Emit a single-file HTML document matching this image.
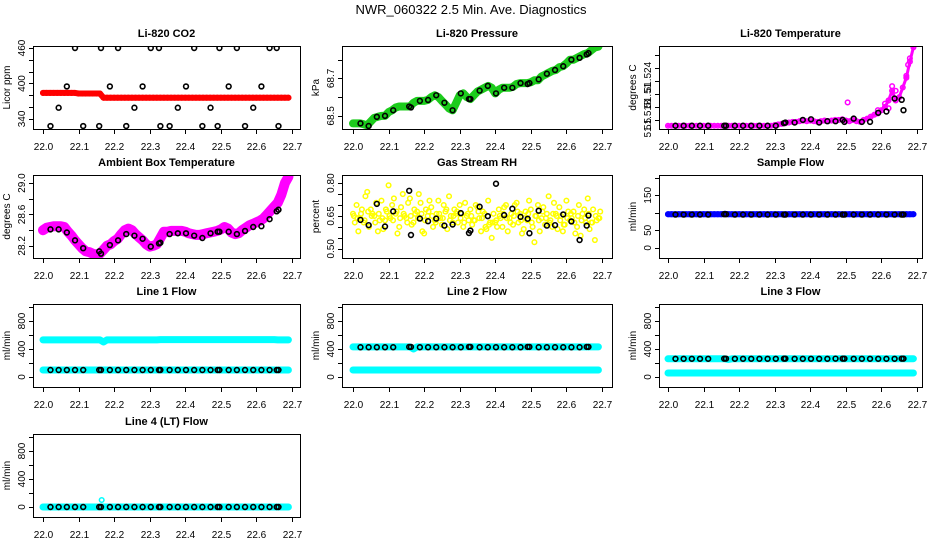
<!DOCTYPE html>
<html><head><meta charset="utf-8">
<style>
html,body{margin:0;padding:0;background:#fff;}
svg{display:block;font-family:"Liberation Sans",Arial,sans-serif;}
</style></head>
<body>
<svg id="chart" width="936" height="540" viewBox="0 0 936 540" xmlns="http://www.w3.org/2000/svg">
<text x="471" y="14" font-size="13" text-anchor="middle">NWR_060322  2.5 Min. Ave. Diagnostics</text>
</svg>
<script>
// ---------- data ----------
const xTicks = [22.0,22.1,22.2,22.3,22.4,22.5,22.6,22.7];
const xTickLabels = ["22.0","22.1","22.2","22.3","22.4","22.5","22.6","22.7"];
const blackX = [22.021,22.044,22.067,22.090,22.113,22.158,22.163,22.188,22.211,22.234,22.257,22.280,22.303,22.326,22.330,22.356,22.379,22.402,22.425,22.448,22.471,22.491,22.496,22.522,22.545,22.568,22.591,22.614,22.637,22.657,22.662];
const gridX = [22.00,22.01,22.02,22.03,22.04,22.05,22.06,22.07,22.08,22.09,22.10,22.11,22.12,22.13,22.14,22.15,22.16,22.17,22.18,22.19,22.20,22.21,22.22,22.23,22.24,22.25,22.26,22.27,22.28,22.29,22.30,22.31,22.32,22.33,22.34,22.35,22.36,22.37,22.38,22.39,22.40,22.41,22.42,22.43,22.44,22.45,22.46,22.47,22.48,22.49,22.50,22.51,22.52,22.53,22.54,22.55,22.56,22.57,22.58,22.59,22.60,22.61,22.62,22.63,22.64,22.65,22.66,22.67,22.68,22.69];

const co2Color = [384,384,384,384,384,384,384,384,384,384,383,383,383,383,383,383,383,376,376,376,376,376,376,376,376,376,376,376,376,376,376,376,376,376,376,376,376,376,376,376,376,376,376,376,376,376,376,376,376,376,376,376,376,376,376,376,376,376,376,376,376,376,376,376,376,376,376,376,376,376];
const co2Black = [328,359,395,460,328,328,460,395,460,328,359,395,460,460,328,328,359,395,460,328,359,328,460,395,460,328,359,395,460,460,328];

const presColor = [68.46,68.46,68.46,68.455,68.45,68.47,68.49,68.495,68.5,68.5,68.52,68.53,68.545,68.55,68.55,68.55,68.55,68.57,68.58,68.58,68.58,68.585,68.6,68.61,68.6,68.58,68.56,68.54,68.53,68.57,68.61,68.62,68.6,68.59,68.61,68.63,68.64,68.65,68.66,68.65,68.62,68.64,68.65,68.65,68.65,68.655,68.67,68.675,68.675,68.675,68.68,68.69,68.69,68.71,68.72,68.73,68.74,68.745,68.76,68.765,68.78,68.8,68.8,68.81,68.82,68.83,68.835,68.85,68.865,68.87];
const presBlack = [68.46,68.446,68.495,68.5,68.53,68.55,68.545,68.58,68.585,68.61,68.57,68.53,68.62,68.59,68.59,68.635,68.66,68.62,68.65,68.65,68.675,68.67,68.675,68.695,68.725,68.745,68.765,68.8,68.81,68.828,68.835];

const ltColor = [51.5151,51.5151,51.5151,51.5151,51.5151,51.5151,51.5151,51.5151,51.5151,51.5151,51.5151,51.5151,51.5151,51.5151,51.5151,51.5151,51.5151,51.5151,51.5151,51.5151,51.5151,51.5151,51.5151,51.5151,51.5151,51.5151,51.5151,51.5151,51.5151,51.5151,51.5152,51.5153,51.5154,51.5155,51.5156,51.5157,51.5157,51.5158,51.5159,51.5158,51.5159,51.5158,51.5157,51.5158,51.5159,51.5158,51.5159,51.516,51.516,51.5161,51.5159,51.5158,51.516,51.5158,51.5157,51.516,51.5162,51.5165,51.5168,51.517,51.5175,51.518,51.519,51.5205,51.519,51.5195,51.521,51.5225,51.525,51.5272];
const ltBlack = [51.5151,51.5151,51.5151,51.5151,51.5151,51.5151,51.5151,51.5151,51.5151,51.5151,51.5151,51.5151,51.5151,51.5155,51.5156,51.5156,51.516,51.5161,51.5156,51.5158,51.5158,51.516,51.5157,51.5162,51.5157,51.5157,51.5171,51.5173,51.5193,51.5191,51.5175];

const ambColor = [28.4,28.43,28.44,28.45,28.45,28.45,28.44,28.38,28.33,28.27,28.22,28.17,28.13,28.12,28.1,28.09,28.1,28.15,28.2,28.22,28.26,28.29,28.35,28.4,28.42,28.4,28.35,28.31,28.27,28.22,28.19,28.2,28.22,28.3,28.38,28.38,28.39,28.39,28.39,28.39,28.38,28.36,28.35,28.34,28.34,28.35,28.36,28.37,28.38,28.39,28.41,28.44,28.42,28.37,28.35,28.36,28.4,28.43,28.46,28.48,28.5,28.52,28.55,28.6,28.65,28.7,28.75,28.85,29.0,29.08];
const ambBlack = [28.41,28.41,28.37,28.27,28.17,28.13,28.1,28.21,28.27,28.35,28.33,28.29,28.19,28.23,28.24,28.35,28.36,28.36,28.33,28.3,28.36,28.38,28.38,28.38,28.35,28.39,28.44,28.45,28.54,28.64,28.66];

const rhA = [0.66,0.70,0.64,0.62,0.76,0.68,0.65,0.58,0.72,0.63,0.79,0.70,0.66,0.60,0.75,0.64,0.73,0.62,0.67,0.71,0.57,0.65,0.69,0.63,0.72,0.61,0.67,0.74,0.62,0.66,0.70,0.60,0.65,0.68,0.63,0.69,0.58,0.66,0.72,0.55,0.62,0.68,0.60,0.70,0.64,0.61,0.71,0.66,0.59,0.63,0.68,0.53,0.70,0.64,0.61,0.74,0.60,0.66,0.69,0.58,0.72,0.63,0.67,0.60,0.56,0.68,0.73,0.62,0.54,0.64];
const rhB = [0.62,0.58,0.68,0.74,0.60,0.66,0.71,0.63,0.59,0.67,0.64,0.73,0.57,0.69,0.65,0.71,0.61,0.66,0.75,0.58,0.68,0.72,0.60,0.66,0.64,0.70,0.59,0.65,0.68,0.62,0.66,0.71,0.63,0.61,0.70,0.64,0.67,0.59,0.62,0.66,0.60,0.64,0.69,0.58,0.66,0.70,0.62,0.57,0.67,0.72,0.60,0.65,0.58,0.69,0.66,0.63,0.71,0.59,0.65,0.61,0.67,0.64,0.57,0.70,0.66,0.62,0.59,0.68,0.63,0.67];
const rhC = [0.65,0.64,0.66,0.63,0.67,0.65,0.62,0.66,0.64,0.68,0.65,0.63,0.67,0.64,0.66,0.62,0.65,0.68,0.64,0.66,0.63,0.67,0.65,0.62,0.66,0.64,0.68,0.63,0.65,0.67,0.64,0.62,0.66,0.65,0.63,0.67,0.64,0.60,0.61,0.62,0.63,0.65,0.66,0.64,0.62,0.65,0.67,0.63,0.64,0.66,0.62,0.65,0.63,0.67,0.64,0.62,0.66,0.65,0.63,0.61,0.64,0.66,0.62,0.65,0.63,0.64,0.66,0.62,0.65,0.64];
const rhBlack = [0.632,0.608,0.705,0.602,0.671,0.765,0.563,0.638,0.626,0.638,0.606,0.611,0.663,0.572,0.583,0.692,0.649,0.797,0.654,0.683,0.646,0.637,0.571,0.674,0.606,0.608,0.657,0.625,0.54,0.606,0.652];

const sfColor = [96,96,96,96,96,96,96,96,96,96,96,96,96,96,96,96,97,96,96,96,96,96,96,96,96,96,96,96,96,96,96,96,96,96,96,96,96,96,96,96,96,96,96,96,96,96,96,96,96,96,96,96,96,96,96,96,96,96,96,96,96,96,96,96,96,96,96,96,96,96];
const sfBlack = [95,95,95,95,95,96,96,95,95,95,95,95,95,95,95,95,95,95,95,95,95,95,95,95,95,95,95,95,95,95,95];

const l1Up = [530,530,530,530,530,530,530,530,530,530,530,530,530,530,530,530,530,500,530,530,530,530,530,530,530,530,530,530,530,530,530,530,530,535,535,535,535,535,535,535,535,535,535,535,535,535,535,535,535,535,535,535,535,535,535,535,535,535,535,535,535,535,535,535,535,535,530,530,530,530];
const l1Low = [100,100,100,100,100,100,100,100,100,100,100,100,100,100,100,100,100,100,100,100,100,100,100,100,100,100,100,100,100,100,100,100,100,100,100,100,100,100,100,100,100,100,100,100,100,100,100,100,100,100,100,100,100,100,100,100,100,100,100,100,100,100,100,100,100,100,100,100,100,100];
const l1Black = [100,100,100,100,100,100,100,100,100,100,100,100,100,100,100,100,100,100,100,100,100,100,100,100,100,100,100,100,100,100,100];
const l2Up = [430,430,430,430,430,430,430,430,430,430,430,430,430,430,430,430,430,400,430,430,430,430,430,430,430,430,430,430,430,430,430,430,430,430,430,430,430,430,430,430,430,430,430,430,430,430,430,430,430,430,430,430,430,430,430,430,430,430,430,430,430,430,430,430,430,430,430,430,430,430];
const l2Low = [100,100,100,100,100,100,100,100,100,100,100,100,100,100,100,100,100,100,100,100,100,100,100,100,100,100,100,100,100,100,100,100,100,100,100,100,100,100,100,100,100,100,100,100,100,100,100,100,100,100,100,100,100,100,100,100,100,100,100,100,100,100,100,100,100,100,100,100,100,100];
const l2Black = [425,425,425,425,425,430,430,425,425,425,425,425,425,430,430,425,425,425,425,425,425,430,430,425,425,425,425,425,425,430,430];
const l3Up = [260,260,260,260,260,260,260,260,260,260,260,260,260,260,260,260,260,250,260,260,260,260,260,260,260,260,260,260,260,260,260,260,260,262,262,262,262,262,262,262,262,262,262,262,262,262,262,262,262,262,262,262,262,262,262,262,262,262,262,262,262,262,262,262,262,262,262,262,262,262];
const l3Low = [57,57,57,57,57,57,57,57,57,57,57,57,57,57,57,57,57,57,57,57,57,57,57,57,57,57,57,57,57,57,57,57,57,57,57,57,57,57,57,57,57,57,57,57,57,57,57,57,57,57,57,57,57,57,57,57,57,57,57,57,57,57,57,57,57,57,57,57,57,57];
const l3Black = [260,260,260,260,260,262,262,260,260,260,260,260,260,262,262,260,260,260,260,260,262,262,262,260,260,260,260,260,260,262,262];
const l4Color = [0,0,0,0,0,0,0,0,0,0,0,0,0,0,0,0,0,0,0,0,0,0,0,0,0,0,0,0,0,0,0,0,0,0,0,0,0,0,0,0,0,0,0,0,0,0,0,0,0,0,0,0,0,0,0,0,0,0,0,0,0,0,0,0,0,0,0,0,0,0];
const l4OutlierX = [22.165];
const l4OutlierY = [100];
const l4Black = [0,0,0,0,0,0,0,0,0,0,0,0,0,0,0,0,0,0,0,0,0,0,0,0,0,0,0,0,0,0,0];

// ---------- layout ----------
const svg = document.getElementById('chart');
const NS = 'http://www.w3.org/2000/svg';
const colBox = [[33,300,43],[342,612,353],[659,922,668]];
const rowTop = [46,175,304,434];
const boxH = 83;
const xSpan = 249;

function mk(tag, attrs, parent){
  const e = document.createElementNS(NS, tag);
  for (const k in attrs) e.setAttribute(k, attrs[k]);
  (parent||svg).appendChild(e);
  return e;
}

function panel(cfg){
  const [bl, br, x0] = colBox[cfg.col];
  const top = rowTop[cfg.row], bot = top + boxH;
  const g = mk('g', {});
  
  
  const xs = v => x0 + (v - 22.0) / 0.7 * xSpan;
  const ys = v => bot - (v - cfg.dom[0]) / (cfg.dom[1] - cfg.dom[0]) * boxH;
  const t = mk('text', {x:(bl+br)/2, y: top-9, 'font-size':11, 'font-weight':'bold', 'text-anchor':'middle'}, g);
  t.textContent = cfg.title;
  
  
  const b = mk('rect', {x:bl+0.5, y:top+0.5, width:br-bl, height:boxH, fill:'none', stroke:'#000', 'stroke-width':1}, g);
  
  
  const xa = mk('g', {}, g);
  
  
  xTicks.forEach((v,i)=>{
    const x = Math.round(xs(v))+0.5;
    mk('line', {x1:x, x2:x, y1:bot+1, y2:bot+5, stroke:'#000'}, xa);
    const tl = mk('text', {x:x, y:bot+21, 'font-size':10, 'text-anchor':'middle'}, xa);
    tl.textContent = xTickLabels[i];
    
    
  });
  const ya = mk('g', {}, g);
  
  
  cfg.yTicks.forEach(v=>{
    const y = Math.round(ys(v))+0.5;
    mk('line', {x1:bl-4, x2:bl, y1:y, y2:y, stroke:'#000'}, ya);
  });
  cfg.yLabVals.forEach((v,i)=>{
    const y = ys(v);
    const tl = mk('text', {x:0, y:0, 'font-size':10, 'text-anchor':'middle', transform:`translate(${bl-8},${y}) rotate(-90)`}, ya);
    tl.textContent = cfg.yLabs[i];
    
    
  });
  const yt = mk('text', {x:0, y:0, 'font-size':10, 'text-anchor':'middle', transform:`translate(${bl-23},${(top+bot)/2}) rotate(-90)`}, ya);
  yt.textContent = cfg.ylab;
  
  
  const cid = 'c' + cfg.col + cfg.row;
  const cp = mk('clipPath', {id:cid}, g);
  mk('rect', {x:bl+1, y:top+1, width:br-bl-1, height:boxH-1}, cp);
  const dg = mk('g', {'clip-path':`url(#${cid})`}, g);
  cfg.series.forEach(s=>{
    const sg = mk('g', {}, dg);
    
    
    const off = s.off || 0;
    if (s.band){
      const pts = s.vals.map((v,i)=>`${xs(gridX[i]+off).toFixed(1)},${ys(v).toFixed(1)}`).join(' ');
      mk('polyline', {points:pts, fill:'none', stroke:s.color, 'stroke-width':s.band, 'stroke-linejoin':'round', 'stroke-linecap':'round'}, sg);
    }
    s.vals.forEach((v,i)=>{
      const c = mk('circle', {cx:xs(gridX[i]+off), cy:ys(v), r:2.3, fill:'none', stroke:s.color, 'stroke-width':1.5}, sg);
      
      
    });
  });
  (cfg.extra||[]).forEach(s=>{
    s.xv.forEach((xv,i)=>{
      const c = mk('circle', {cx:xs(xv), cy:ys(s.yv[i]), r:2.3, fill:'none', stroke:s.color, 'stroke-width':1.5}, dg);
      
      
    });
  });
  const bg = mk('g', {}, dg);
  
  
  cfg.black.forEach((v,i)=>{
    const c = mk('circle', {cx:xs(blackX[i]), cy:ys(v), r:2.4, fill:'none', stroke:'#000', 'stroke-width':1.6}, bg);
    
    
  });
}

const flowTicks = [0,200,400,600,800,1000];
panel({name:'panel-co2', col:0,row:0,title:'Li-820 CO2',ylab:'Licor ppm',dom:[323,463.4],
  yTicks:[340,360,380,400,420,440,460], yLabVals:[340,400,460], yLabs:['340','400','460'],
  series:[{name:'co2-series',vals:co2Color,color:'#ff0000',band:6}], black:co2Black});
panel({name:'panel-pressure', col:1,row:0,title:'Li-820 Pressure',ylab:'kPa',dom:[68.43,68.873],
  yTicks:[68.5,68.6,68.7,68.8], yLabVals:[68.5,68.7], yLabs:['68.5','68.7'],
  series:[{name:'pressure-series',vals:presColor,color:'#1ccc1c',band:8}], black:presBlack});
panel({name:'panel-li820-temp', col:2,row:0,title:'Li-820 Temperature',ylab:'degrees C',dom:[51.5146,51.5274],
  yTicks:[51.516,51.518,51.52,51.522,51.524,51.526], yLabVals:[51.5148,51.5168,51.5198,51.5226], yLabs:['51.5','51.518','51.51','51.524'],
  series:[{name:'li820-temp-series',vals:ltColor,color:'#ff00ff',band:3}],
  extra:[{xv:[22.505,22.59,22.61,22.62,22.63,22.64,22.67,22.675,22.68],yv:[51.5187,51.5175,51.5185,51.5178,51.5212,51.5205,51.5228,51.5245,51.5255],color:'#ff00ff'}], black:ltBlack});
panel({name:'panel-ambient-temp', col:0,row:1,title:'Ambient Box Temperature',ylab:'degrees C',dom:[28.045,29.103],
  yTicks:[28.2,28.4,28.6,28.8,29.0], yLabVals:[28.2,28.6,29.0], yLabs:['28.2','28.6','29.0'],
  series:[{name:'ambient-temp-series',vals:ambColor,color:'#ff00ff',band:10}], black:ambBlack});
panel({name:'panel-gas-rh', col:1,row:1,title:'Gas Stream RH',ylab:'percent',dom:[0.458,0.837],
  yTicks:[0.5,0.55,0.6,0.65,0.7,0.75,0.8], yLabVals:[0.5,0.65,0.8], yLabs:['0.50','0.65','0.80'],
  series:[{name:'rh-series-a',vals:rhA,color:'#ffff00'},{name:'rh-series-b',vals:rhB,color:'#ffff00',off:0.005},{name:'rh-series-c',vals:rhC,color:'#ffff00',off:0.0025}],
  black:rhBlack});
panel({name:'panel-sample-flow', col:2,row:1,title:'Sample Flow',ylab:'ml/min',dom:[-28.8,207.7],
  yTicks:[0,50,100,150,200], yLabVals:[0,50,150], yLabs:['0','50','150'],
  series:[{name:'sample-flow-series',vals:sfColor,color:'#0000ff',band:6}], black:sfBlack});
panel({name:'panel-line1-flow', col:0,row:2,title:'Line 1 Flow',ylab:'ml/min',dom:[-143,1043],
  yTicks:flowTicks, yLabVals:[0,400,800], yLabs:['0','400','800'],
  series:[{name:'line1-upper-series',vals:l1Up,color:'#00ffff',band:7},{name:'line1-lower-series',vals:l1Low,color:'#00ffff',band:7}], black:l1Black});
panel({name:'panel-line2-flow', col:1,row:2,title:'Line 2 Flow',ylab:'ml/min',dom:[-143,1043],
  yTicks:flowTicks, yLabVals:[0,400,800], yLabs:['0','400','800'],
  series:[{name:'line2-upper-series',vals:l2Up,color:'#00ffff',band:7},{name:'line2-lower-series',vals:l2Low,color:'#00ffff',band:7}], black:l2Black});
panel({name:'panel-line3-flow', col:2,row:2,title:'Line 3 Flow',ylab:'ml/min',dom:[-143,1043],
  yTicks:flowTicks, yLabVals:[0,400,800], yLabs:['0','400','800'],
  series:[{name:'line3-upper-series',vals:l3Up,color:'#00ffff',band:7},{name:'line3-lower-series',vals:l3Low,color:'#00ffff',band:7}], black:l3Black});
panel({name:'panel-line4-flow', col:0,row:3,title:'Line 4 (LT) Flow',ylab:'ml/min',dom:[-143,1043],
  yTicks:flowTicks, yLabVals:[0,400,800], yLabs:['0','400','800'],
  series:[{name:'line4-series',vals:l4Color,color:'#00ffff',band:7}],
  extra:[{xv:l4OutlierX,yv:l4OutlierY,color:'#00ffff'}], black:l4Black});
</script>
</body></html>
